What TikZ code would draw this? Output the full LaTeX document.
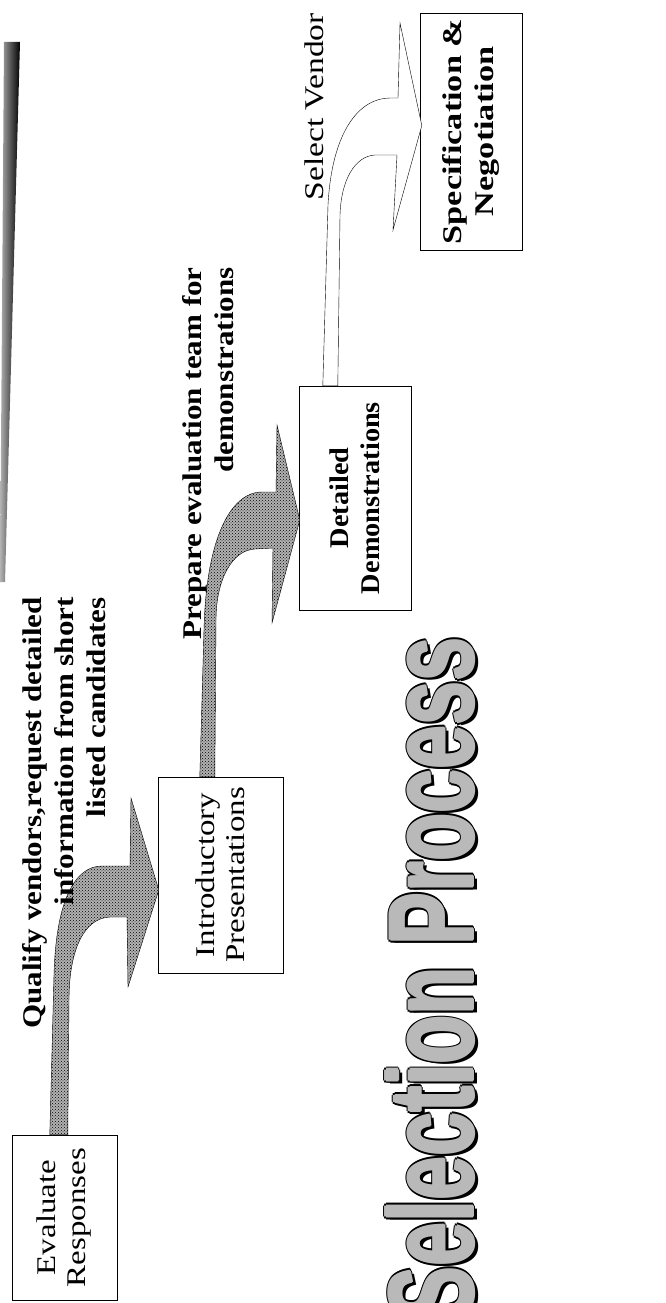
\documentclass[tikz,border=0pt]{standalone}
\usepackage{fontspec}
\setmainfont{Liberation Serif}
\newfontfamily\titlefont{Liberation Sans}
\usetikzlibrary{patterns,positioning,calc}

\tikzset{
  box/.style={draw, thin, inner sep=0pt},
  boxtext/.style={rotate=90, xscale=1.22, align=center, inner sep=0pt,
    font=\fontsize{27}{30}\selectfont},
  steptext/.style={rotate=90, xscale=1.15, align=right, inner sep=0pt,
    font=\bfseries\fontsize{27}{32}\selectfont},
  titletext/.style={rotate=90, xscale=0.66, inner sep=0pt, anchor=base east,
    font=\titlefont\bfseries\fontsize{120}{120}\selectfont},
  hatcharrow/.style={draw, thin, preaction={fill=gray!60}, pattern=crosshatch dots},
  openarrow/.style={draw, thin, fill=white}
}

\begin{document}
\begin{tikzpicture}[x=1pt,y=-1pt]
  \useasboundingbox (0,0) rectangle (665,1303);
  \clip (0,0) rectangle (665,1303);

  % bar at the side
  \shade[left color=gray!60, right color=black] (4,42) -- (20,42) -- (5,582) -- (0,582) -- cycle;

  % the four steps
  \node[box, minimum width=105pt, minimum height=165pt] (ev) at (64.5,1217.5) {};
  \node[box, minimum width=125pt, minimum height=196pt] (intro) at (220.5,875) {};
  \node[box, minimum width=112pt, minimum height=224pt] (det) at (355,498) {};
  \node[box, minimum width=102pt, minimum height=237pt] (spec) at (471,131.5) {};

  \node[boxtext] (evt) at (ev) {Evaluate\\Responses};
  \node[boxtext] (introt) at (intro) {Introductory\\Presentations};
  \node[boxtext, font=\bfseries\fontsize{27}{31}\selectfont, xscale=0.86] (dett) at (det) {Detailed\\Demonstrations};
  \node[boxtext, font=\bfseries\fontsize{27}{32}\selectfont, xscale=1.04] (spect) at (spec) {Specification \&\\Negotiation};

  % bent arrows between steps
  \path[hatcharrow] ($(ev.north west)+(38,0)$) -- (54,975)
    .. controls (56,900) and (75,866) .. (102,866) -- (130,866) -- (131,798)
    -- ($(intro.west)+(1,15)$) -- (128,987) -- (127,917) -- (110,917)
    .. controls (84,918) and (69,950) .. (69,1000) -- ($(ev.north west)+(56,0)$) -- cycle;

  \path[hatcharrow] ($(intro.north west)+(42,0)$) -- (204,630)
    .. controls (206,540) and (230,492) .. (262,492) -- (276,492) -- (277,425)
    -- ($(det.west)+(1,22)$) -- (272,623) -- (273,548) -- (255,549)
    .. controls (232,550) and (216,580) .. (216,620) -- ($(intro.north west)+(57,0)$) -- cycle;

  \path[openarrow] ($(det.north west)+(24,0)$) -- (328,205)
    .. controls (332,130) and (360,98) .. (390,98) -- (398,98) -- (400,23)
    -- ($(spec.west)+(2,-6)$) -- (393,230) -- (397,155) -- (375,155)
    .. controls (355,156) and (341,180) .. (340,215) -- ($(det.north west)+(39,0)$) -- cycle;

  % arrow labels
  \node[steptext, anchor=east] (qual) at (64,597)
    {Qualify vendors,request detailed\\information from short\\listed candidates};
  \node[steptext, anchor=east] (prep) at (208,267)
    {Prepare evaluation team for\\demonstrations};
  \node[steptext, anchor=east, font=\fontsize{27}{32}\selectfont, xscale=1.08] (sel) at (314,13)
    {Select Vendor};

  % title: dark rim and shadow, then grey letters
  \node[titletext, text=black] (tshadow) at (477,640) {Selection Process};
  \foreach \a in {0,45,...,315}
    \node[titletext, text=black] (trim\a) at ($(473,637)+(\a:2.8)$) {Selection Process};
  \foreach \a in {0,90,180,270}
    \node[titletext, text=gray!55] (tfill\a) at ($(473,637)+(\a:1.2)$) {Selection Process};
  \node[titletext, text=gray!55] (title) at (473,637) {Selection Process};
\end{tikzpicture}
\end{document}
